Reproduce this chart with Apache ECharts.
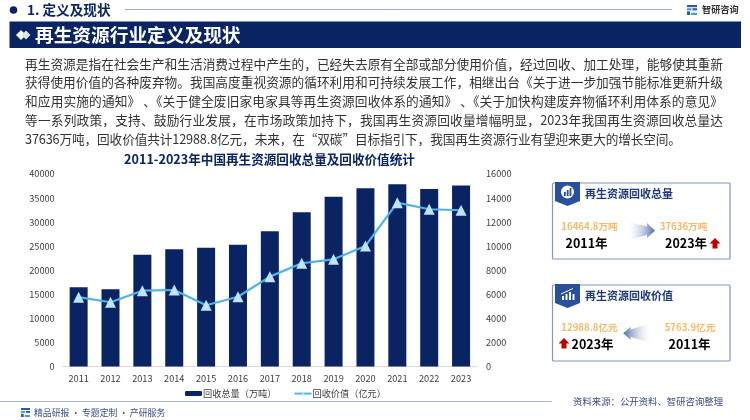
<!DOCTYPE html>
<html>
<head>
<meta charset="utf-8">
<script src="https://cdn.jsdelivr.net/npm/echarts@6/dist/echarts.min.js"></script>
<style>
html, body { margin: 0; padding: 0; background: #fff; }
#main { position: absolute; left: 0; top: 0; width: 750px; height: 420px; }
#body { position: absolute; left: 25px; top: 54.5px; width: 698px; z-index: 2; font: 12.7px/18.8px "Noto Sans CJK SC", "Noto Sans", sans-serif; color: #333; }
#body div { text-align: justify; text-align-last: justify; white-space: nowrap; }
#body div:last-child { text-align-last: left; letter-spacing: -0.15px; }
</style>
</head>
<body>
<div id="main"></div>
<div id="body"></div>
<script>
var years = ['2011', '2012', '2013', '2014', '2015', '2016', '2017', '2018', '2019', '2020', '2021', '2022', '2023'];
var recycleTotal = [16464.8, 16040, 23240, 24350, 24700, 25300, 28100, 32040, 35290, 37020, 37860, 36880, 37636];
var recycleValue = [5763.9, 5340, 6300, 6360, 5090, 5800, 7470, 8580, 8910, 10020, 13620, 13070, 12988.8];
var bodyLines = [
    '再生资源是指在社会生产和生活消费过程中产生的，已经失去原有全部或部分使用价值，经过回收、加工处理，能够使其重新',
    '获得使用价值的各种废弃物。我国高度重视资源的循环利用和可持续发展工作，相继出台《关于进一步加强节能标准更新升级',
    '和应用实施的通知》 、《关于健全废旧家电家具等再生资源回收体系的通知》 、《关于加快构建废弃物循环利用体系的意见》',
    '等一系列政策，支持、鼓励行业发展，在市场政策加持下，我国再生资源回收量增幅明显，2023年我国再生资源回收总量达',
    '37636万吨，回收价值共计12988.8亿元，未来，在“双碳”目标指引下，我国再生资源行业有望迎来更大的增长空间。'
];

var FONT = '"Noto Sans CJK SC", "Noto Sans", sans-serif';
var NAVY = '#0a2463';

function txt(text, x, y, size, color, bold, align) {
    return {
        type: 'text',
        style: {
            text: text, x: x, y: y, fill: color,
            font: (bold ? 'bold ' : '') + size + 'px ' + FONT,
            textAlign: align || 'left', textVerticalAlign: 'middle'
        }
    };
}
function rect(x, y, w, h, fill) {
    return { type: 'rect', shape: { x: x, y: y, width: w, height: h }, style: { fill: fill } };
}
function line(x1, y1, x2, y2, color, w) {
    return { type: 'line', shape: { x1: x1, y1: y1, x2: x2, y2: y2 }, style: { stroke: color, lineWidth: w } };
}
function poly(points, fill) {
    return { type: 'polygon', shape: { points: points }, style: { fill: fill } };
}
function logo(x, y, s) {
    return [
        rect(x, y, s, s * 0.22, '#2a5caa'),
        rect(x + s * 0.55, y + s * 0.32, s * 0.45, s * 0.22, '#2a5caa'),
        rect(x, y + s * 0.32, s * 0.45, s * 0.22, '#3ba0e0'),
        rect(x, y + s * 0.64, s * 0.3, s * 0.36, '#2a5caa'),
        rect(x + s * 0.4, y + s * 0.78, s * 0.6, s * 0.22, '#3ba0e0')
    ];
}
function upArrow(x, y) {
    return poly([[x + 5, y], [x + 10.5, y + 5.5], [x + 7.5, y + 5.5], [x + 7.5, y + 10.5], [x + 2.5, y + 10.5], [x + 2.5, y + 5.5], [x - 0.5, y + 5.5]], '#c00000');
}
function panel(y, title) {
    return [
        { type: 'rect', shape: { x: 552.5, y: y, width: 177.5, height: 76, r: 1 }, style: { fill: '#fff', stroke: '#8296c4', lineWidth: 1.2 } },
        poly([[555, y - 1], [580, y - 1], [580, y + 18], [567.5, y + 23], [555, y + 18]], '#2a4f9c'),
        txt(title, 585, y + 11, 11, '#1f3a7a', true)
    ];
}
function sideArrow(points, fromX, toX) {
    return poly(points, {
        type: 'linear', x: fromX, y: 0, x2: toX, y2: 0, global: true,
        colorStops: [{ offset: 0, color: 'rgba(255,255,255,0.15)' }, { offset: 1, color: '#4a69a8' }]
    });
}

// 正文用 html 两端对齐
bodyLines.forEach(function (t) {
    var d = document.createElement('div');
    d.textContent = t;
    document.getElementById('body').appendChild(d);
});

var graphics = [];
// 顶部标题
graphics.push({ type: 'circle', shape: { cx: 13.5, cy: 10, r: 3.8 }, style: { fill: NAVY } });
graphics.push(txt('1. 定义及现状', 27, 10, 13.6, NAVY, true));
graphics.push(line(125, 9.5, 672, 9.5, '#8296b8', 0.8));
graphics = graphics.concat(logo(687, 5, 10));
graphics.push(txt('智研咨询', 702, 9.5, 9.2, '#333', true));
graphics.push(rect(9.5, 21.5, 731.5, 26.5, NAVY));
graphics.push(poly([[16, 35], [21, 30], [26, 35], [21, 40]], '#fff'));
graphics.push(poly([[21.5, 35], [26, 30.5], [30.5, 35], [26, 39.5]], '#dfe5f0'));
graphics.push(txt('再生资源行业定义及现状', 35, 35, 18.7, '#fff', true));

graphics.push(txt('2011-2023年中国再生资源回收总量及回收价值统计', 269.5, 159, 12.6, NAVY, true, 'center'));

// 右侧卡片1
graphics = graphics.concat(panel(183, '再生资源回收总量'));
graphics.push({ type: 'circle', shape: { cx: 567.5, cy: 192, r: 6.5 }, style: { fill: '#fff' } });
graphics.push(rect(564, 192, 1.8, 4, '#2a4f9c'), rect(566.8, 190, 1.8, 6, '#2a4f9c'), rect(569.6, 188, 1.8, 8, '#2a4f9c'));
graphics.push(txt('16464.8万吨', 589.5, 226, 9.6, '#fbb968', true, 'center'));
graphics.push(txt('2011年', 586.5, 243, 12.5, '#000', true, 'center'));
graphics.push(sideArrow([[628, 221.7], [647, 226.5], [647, 223], [655, 230.7], [647, 238], [647, 235], [628, 240]], 628, 655));
graphics.push(txt('37636万吨', 683.5, 226, 9.6, '#fbb968', true, 'center'));
graphics.push(txt('2023年', 686, 243, 12.5, '#000', true, 'center'));
graphics.push(upArrow(710, 238));

// 右侧卡片2
graphics = graphics.concat(panel(285, '再生资源回收价值'));
graphics.push(rect(562, 296, 2, 4, '#fff'), rect(565.5, 294, 2, 6, '#fff'), rect(569, 292, 2, 8, '#fff'), rect(572.5, 294, 2, 6, '#fff'));
graphics.push(line(561, 294, 573, 288.5, '#fff', 1));
graphics.push(txt('12988.8亿元', 589.5, 327, 9.6, '#fbb968', true, 'center'));
graphics.push(txt('2023年', 592.5, 344, 12.5, '#000', true, 'center'));
graphics.push(upArrow(559, 338));
graphics.push(sideArrow([[650.7, 323.3], [630.7, 329.5], [630.7, 326.7], [623.3, 333.3], [630.7, 340], [630.7, 337], [650.7, 343]], 650.7, 623.3));
graphics.push(txt('5763.9亿元', 690, 327, 9.6, '#fbb968', true, 'center'));
graphics.push(txt('2011年', 689.5, 344, 12.5, '#000', true, 'center'));

// 底部
graphics.push(line(0, 401.5, 552, 401.5, '#a8b4d0', 1.2));
graphics = graphics.concat(logo(21, 408, 9));
graphics.push(txt('精品研报\u2009·\u2009专题定制\u2009·\u2009产研服务', 34, 413, 8.9, '#3a4f86', false));
graphics.push(txt('资料来源：公开资料、智研咨询整理', 573, 401, 9.4, '#3a4f86', false));

var myChart = echarts.init(document.getElementById('main'));
var plainLabel = function (v) { return String(v); };
var option = {
    animation: false,
    textStyle: { fontFamily: FONT },
    graphic: { elements: graphics },
    grid: { left: 62.7, right: 273, top: 174, bottom: 53.5 },
    legend: {
        left: 185, top: 389,
        itemWidth: 17, itemHeight: 5, itemGap: 17, padding: 0,
        textStyle: { fontSize: 9.2, color: '#404040', padding: [0, 0, 0, -4] },
        data: ['回收总量（万吨）', '回收价值（亿元）']
    },
    xAxis: {
        type: 'category',
        data: years,
        axisTick: { show: false },
        axisLine: { lineStyle: { color: '#d9d9d9' } },
        axisLabel: { color: '#404040', fontSize: 9.2, margin: 7 }
    },
    yAxis: [
        {
            type: 'value', min: 0, max: 40000, interval: 5000,
            splitLine: { show: false },
            axisLabel: { color: '#404040', fontSize: 9.2, margin: 8, formatter: plainLabel }
        },
        {
            type: 'value', min: 0, max: 16000, interval: 2000,
            splitLine: { show: false },
            axisLabel: { color: '#404040', fontSize: 9.2, margin: 9, formatter: plainLabel }
        }
    ],
    series: [
        {
            name: '回收总量（万吨）',
            type: 'bar',
            data: recycleTotal,
            barWidth: 18,
            itemStyle: { color: NAVY }
        },
        {
            name: '回收价值（亿元）',
            type: 'line',
            yAxisIndex: 1,
            data: recycleValue,
            symbol: 'triangle',
            symbolSize: 11,
            lineStyle: { color: '#4db3f0', width: 2.2 },
            itemStyle: { color: '#bfe3f7' }
        }
    ]
};
myChart.setOption(option);
</script>
</body>
</html>
